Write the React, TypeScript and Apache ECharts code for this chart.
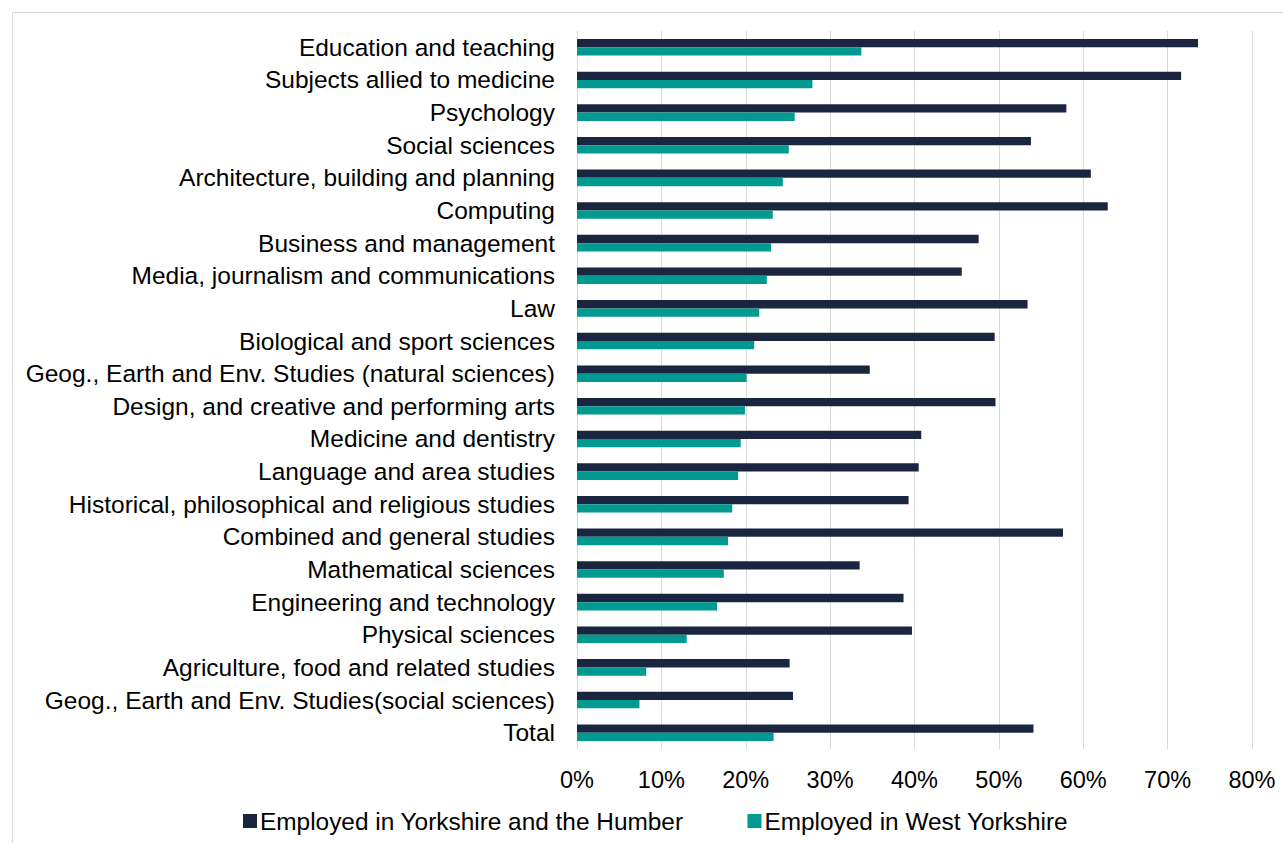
import React, { useEffect, useRef } from "react";
import * as echarts from "echarts";

const categories = [
  "Education and teaching",
  "Subjects allied to medicine",
  "Psychology",
  "Social sciences",
  "Architecture, building and planning",
  "Computing",
  "Business and management",
  "Media, journalism and communications",
  "Law",
  "Biological and sport sciences",
  "Geog., Earth and Env. Studies (natural sciences)",
  "Design, and creative and performing arts",
  "Medicine and dentistry",
  "Language and area studies",
  "Historical, philosophical and religious studies",
  "Combined and general studies",
  "Mathematical sciences",
  "Engineering and technology",
  "Physical sciences",
  "Agriculture, food and related studies",
  "Geog., Earth and Env. Studies(social sciences)",
  "Total",
];

const yorkshireHumber = [
  73.6, 71.6, 58.0, 53.8, 60.9, 62.9, 47.6, 45.6, 53.4, 49.5, 34.7, 49.6, 40.8,
  40.5, 39.3, 57.6, 33.5, 38.7, 39.7, 25.2, 25.6, 54.1,
];

const westYorkshire = [
  33.7, 27.9, 25.8, 25.1, 24.4, 23.2, 23.0, 22.5, 21.6, 21.0, 20.1, 19.9, 19.4,
  19.1, 18.4, 17.9, 17.4, 16.6, 13.0, 8.2, 7.4, 23.3,
];

const xTicks = { min: 0, max: 80, interval: 10 };

const seriesNames = [
  "Employed in Yorkshire and the Humber",
  "Employed in West Yorkshire",
];

const FONT = "'Liberation Sans', Arial, sans-serif";

export default function App() {
  const ref = useRef<HTMLDivElement>(null);

  useEffect(() => {
    if (!ref.current) return;
    const chart = echarts.init(ref.current, null, { renderer: "svg" });
    chart.setOption({
      animation: false,
      backgroundColor: "#ffffff",
      textStyle: { fontFamily: FONT },
      graphic: [
        {
          type: "rect",
          shape: { x: 12.5, y: 12.5, width: 1300, height: 900 },
          style: { fill: "none", stroke: "#d9d9d9", lineWidth: 1 },
          silent: true,
        },
      ],
      grid: { left: 577, right: 31, top: 31, bottom: 94 },
      legend: {
        left: 238,
        top: 804,
        icon: "rect",
        itemWidth: 14,
        itemHeight: 14,
        itemGap: 64,
        textStyle: { fontSize: 24.4, color: "#000000", fontFamily: FONT, padding: [0, 0, 0, -2] },
        data: seriesNames,
      },
      xAxis: {
        type: "value",
        min: xTicks.min,
        max: xTicks.max,
        interval: xTicks.interval,
        axisLine: { show: false },
        axisTick: { show: false },
        splitLine: { show: true, lineStyle: { color: "#d9d9d9", width: 1 } },
        axisLabel: {
          formatter: "{value}%",
          fontSize: 23.5,
          color: "#000000",
          fontFamily: FONT,
          margin: 19,
        },
      },
      yAxis: {
        type: "category",
        data: categories,
        inverse: true,
        axisLine: { show: false },
        axisTick: { show: false },
        splitLine: { show: false },
        axisLabel: {
          fontSize: 24.5,
          color: "#000000",
          fontFamily: FONT,
          margin: 22,
          interval: 0,
        },
      },
      series: [
        {
          name: seriesNames[0],
          type: "bar",
          data: yorkshireHumber,
          barWidth: 8.3,
          barGap: "0%",
          itemStyle: { color: "#1a2640" },
        },
        {
          name: seriesNames[1],
          type: "bar",
          data: westYorkshire,
          barWidth: 8.3,
          barGap: "0%",
          itemStyle: { color: "#009a90" },
        },
      ],
    });
    return () => chart.dispose();
  }, []);

  return (
    <div
      ref={ref}
      style={{ position: "absolute", left: 0, top: 0, width: 1283, height: 843 }}
    />
  );
}
